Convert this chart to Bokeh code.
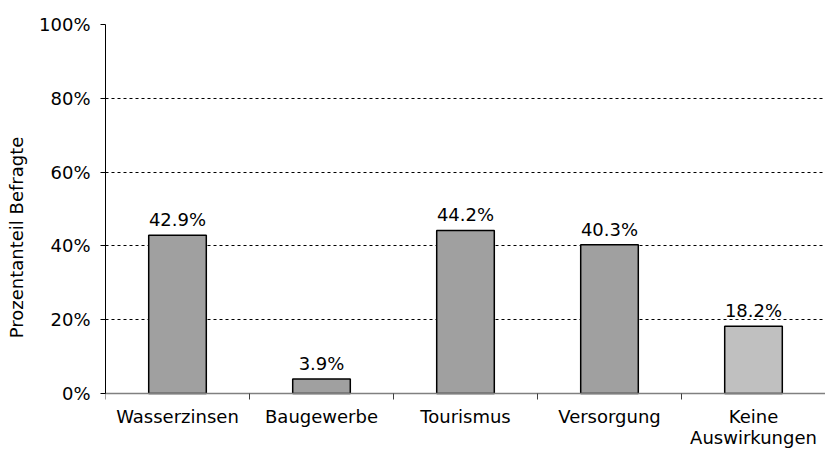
from bokeh.plotting import figure
from bokeh.models import ColumnDataSource, FixedTicker, PrintfTickFormatter, Range1d
from bokeh.core.properties import value
from bokeh.embed import file_html
from bokeh.resources import INLINE

categories = ["Wasserzinsen", "Baugewerbe", "Tourismus", "Versorgung", "Keine\nAuswirkungen"]
percent = [42.9, 3.9, 44.2, 40.3, 18.2]
bar_colors = ["#A0A0A0", "#A0A0A0", "#A0A0A0", "#A0A0A0", "#C0C0C0"]
y_ticks = [0, 20, 40, 60, 80, 100]

FONT = "DejaVu Sans"
FS = "18px"

# layout geometry (pixels)
W, H = 825, 450
TOP, LEFT = 24, 105
AXIS_Y = 393                      # pixel row of the 0% baseline
px_per_unit = (AXIS_Y - TOP) / 100.0
y_start = -(H - AXIS_Y) / px_per_unit   # extend frame below 0 to host category labels
tick_len = 6 / px_per_unit

n = len(categories)
xs = [i + 0.5 for i in range(n)]
bounds = list(range(n + 1))

src = ColumnDataSource(dict(
    x=xs, top=percent, color=bar_colors, cat=categories,
    label=[f"{v:.1f}%" for v in percent],
))

p = figure(width=W, height=H, output_backend="svg", toolbar_location=None,
           x_range=Range1d(0, n), y_range=Range1d(y_start, 100),
           min_border_left=LEFT, min_border_right=0, min_border_top=TOP, min_border_bottom=0)
p.outline_line_color = None
p.background_fill_color = "white"
p.xaxis.visible = False

p.xgrid.grid_line_color = None
p.ygrid.grid_line_color = "black"
p.ygrid.grid_line_dash = "3 3"
p.ygrid.grid_line_width = 1

# bars and value labels
p.vbar(x="x", top="top", width=0.4, bottom=0, source=src, fill_color="color",
       line_color="black", line_width=1.5)
p.text(x="x", y="top", text="label", source=src, text_align="center",
       text_baseline="bottom", y_offset=-5, text_font=value(FONT),
       text_font_size=FS, text_color="black")

# category axis: baseline, boundary ticks, labels
p.segment(x0=[0], y0=[0], x1=[n], y1=[0], line_color="#808080", line_width=1.5)
p.segment(x0=bounds, y0=[0] * len(bounds), x1=bounds, y1=[-tick_len] * len(bounds),
          line_color="#404040", line_width=1)
p.text(x="x", y=0, text="cat", source=src, text_align="center", text_baseline="top",
       y_offset=12, text_font=value(FONT), text_font_size=FS, text_color="black",
       text_line_height=1.0)

# y axis
p.yaxis.bounds = (0, 100)
p.yaxis.ticker = FixedTicker(ticks=y_ticks)
p.yaxis.formatter = PrintfTickFormatter(format="%d%%")
p.yaxis.major_tick_out = 5
p.yaxis.major_tick_in = 0
p.yaxis.minor_tick_line_color = None
p.yaxis.axis_line_color = "black"
p.yaxis.major_tick_line_color = "black"
p.yaxis.major_label_standoff = 10
p.yaxis.major_label_text_font = FONT
p.yaxis.major_label_text_font_size = FS
p.yaxis.major_label_text_color = "black"
p.yaxis.axis_label = "Prozentanteil Befragte"
p.yaxis.axis_label_text_font = FONT
p.yaxis.axis_label_text_font_size = FS
p.yaxis.axis_label_text_font_style = "normal"
p.yaxis.axis_label_text_color = "black"
p.yaxis.axis_label_standoff = 9

open("out.html", "w").write(file_html(p, INLINE))
